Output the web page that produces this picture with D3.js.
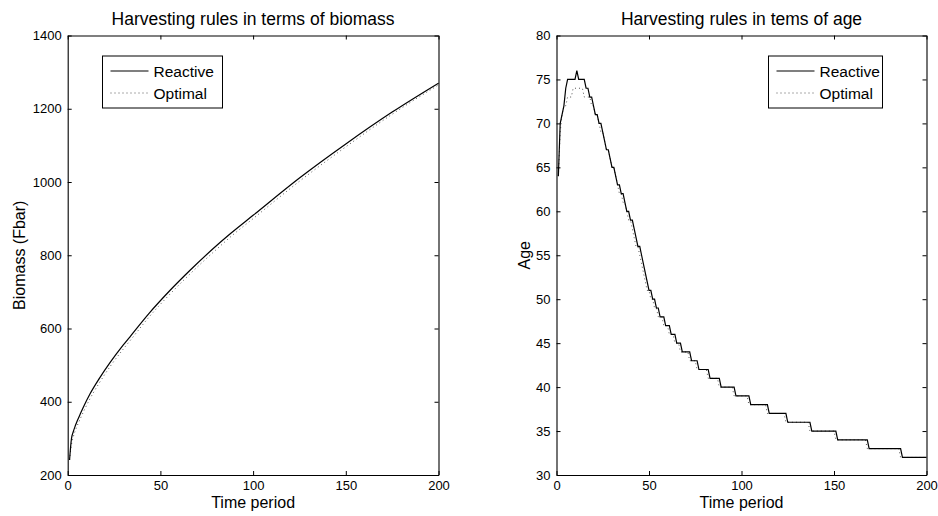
<!DOCTYPE html>
<html><head><meta charset="utf-8">
<script src="https://cdn.jsdelivr.net/npm/d3@7"></script>
<style>
body{margin:0;background:#fff;}
svg{display:block;font-family:"Liberation Sans",Arial,sans-serif;}
</style></head>
<body><svg id="c" width="938" height="516"></svg>
<script>
// ---- Left panel data (biomass) ----
const timeBiomass = [1,2,3,4,5,7,9,12,17,23,30,34,44,55,66,82,88,100,125,150,175,200];
const reactiveBiomass = [241,298,318,333,346,369,391,421,463,508,555,580,642,703,759,834,860,909,1011,1104,1191,1270];
const optimalBiomass  = [241,282,304,320,333,356,378,408,451,497,544,569,632,693,749,824,851,900,1002,1096,1185,1265];
const biomassTicks = [200,400,600,800,1000,1200,1400];
const timeTicks = [0,50,100,150,200];

// ---- Right panel data (age), run-length: level held from start time ----
const reactiveAgeLevels = [64,70,71,72,74,75,76,75,74,73,72,71,70,69,68,67,66,65,64,63,62,61,60,59,58,57,56,55,54,53,52,51,50,49,48,47,46,45,44,43,42,41,40,39,38,37,36,35,34,33,32];
const reactiveAgeStarts = [1,2,3,4,5,6,11,12,16,18,20,21,23,25,26,27,29,30,32,33,35,37,38,40,42,43,44,46,47,48,49,50,52,54,56,59,62,65,68,73,77,83,89,97,105,115,125,138,152,169,187];
const optimalAgeLevels = [64,69,71,72,73,74,73,72,71,70,69,68,67,66,65,64,63,62,61,60,59,58,57,56,55,54,53,52,51,50,49,48,47,46,45,44,43,42,41,40,39,38,37,36,35,34,33,32];
const optimalAgeStarts = [1,2,3,4,6,9,15,19,21,23,24,26,27,29,30,32,33,34,36,38,39,41,42,43,45,46,47,48,49,51,53,55,58,61,64,67,72,76,82,88,96,104,114,124,137,151,168,186];
const ageTicks = [30,35,40,45,50,55,60,65,70,75,80];
const lastTime = 200;

function expandRuns(levels, starts){
  const out=[];
  for(let t=1;t<=lastTime;t++){
    let idx=0;
    for(let i=0;i<starts.length;i++){ if(starts[i]<=t) idx=i; }
    out.push([t, levels[idx]]);
  }
  return out;
}

const svg = d3.select("#c");

function panel(opts){
  const {x0,x1,y0,y1,xDomain,yDomain,yTicks,title,ylabel,ylabelX,series,legend} = opts;
  const x = d3.scaleLinear().domain(xDomain).range([x0,x1]);
  const y = d3.scaleLinear().domain(yDomain).range([y1,y0]);
  const g = svg.append("g");

  series.forEach(s=>{
    const line = d3.line().x(d=>x(d[0])).y(d=>y(d[1]));
    if(s.curve) line.curve(s.curve);
    g.append("path").datum(s.data)
      .attr("fill","none").attr("stroke","#000")
      .attr("stroke-width", s.dotted?0.9:1.2)
      .attr("stroke-dasharray", s.dotted?"1,3":null)
      .attr("stroke-opacity", s.dotted?0.75:1)
      .attr("d", line);
  });

  const fs = "13px";
  const fmt = d3.format("d");
  const ax = [
    g.append("g").attr("transform",`translate(0,${y1})`).call(d3.axisBottom(x).tickValues(timeTicks).tickFormat(fmt).tickSizeInner(-4).tickSizeOuter(0).tickPadding(6)),
    g.append("g").attr("transform",`translate(0,${y0})`).call(d3.axisTop(x).tickValues(timeTicks).tickSizeInner(-4).tickSizeOuter(0).tickFormat("")),
    g.append("g").attr("transform",`translate(${x0},0)`).call(d3.axisLeft(y).tickValues(yTicks).tickFormat(fmt).tickSizeInner(-4).tickSizeOuter(0).tickPadding(6)),
    g.append("g").attr("transform",`translate(${x1},0)`).call(d3.axisRight(y).tickValues(yTicks).tickSizeInner(-4).tickSizeOuter(0).tickFormat(""))
  ];
  ax.forEach(a=>{
    a.selectAll("path.domain").attr("stroke","#000").attr("stroke-width",1.1);
    a.selectAll(".tick line").attr("stroke","#000");
    a.selectAll("text").attr("font-size",fs).attr("fill","#000").attr("font-family","Liberation Sans, Arial, sans-serif");
  });

  g.append("text").attr("x",(x0+x1)/2).attr("y",25).attr("text-anchor","middle")
    .attr("font-size","17.5px").text(title);
  g.append("text").attr("x",(x0+x1)/2).attr("y",508).attr("text-anchor","middle")
    .attr("font-size","16px").text("Time period");
  g.append("text").attr("transform",`translate(${ylabelX},${(y0+y1)/2}) rotate(-90)`)
    .attr("text-anchor","middle").attr("font-size","16px").text(ylabel);

  const L = legend;
  g.append("rect").attr("x",L.x).attr("y",L.y).attr("width",L.w).attr("height",L.h)
    .attr("fill","#fff").attr("stroke","#000").attr("stroke-width",1);
  series.forEach((s,i)=>{
    const ly = L.y + 15 + i*22;
    g.append("line").attr("x1",L.x+8).attr("x2",L.x+46).attr("y1",ly).attr("y2",ly)
      .attr("stroke","#000").attr("stroke-width", s.dotted?0.9:1.2)
      .attr("stroke-dasharray", s.dotted?"1,3":null)
      .attr("stroke-opacity", s.dotted?0.75:1);
    g.append("text").attr("x",L.x+51).attr("y",ly+5.5).attr("font-size","15.5px").text(s.name);
  });
}

panel({
  x0:67.7, x1:438.5, y0:35.5, y1:475,
  xDomain:[0,200], yDomain:[200,1400], yTicks:biomassTicks,
  title:"Harvesting rules in terms of biomass",
  ylabel:"Biomass (Fbar)", ylabelX:25,
  series:[
    {name:"Reactive", data: timeBiomass.map((t,i)=>[t,reactiveBiomass[i]]), curve:d3.curveMonotoneX},
    {name:"Optimal", data: timeBiomass.map((t,i)=>[t,optimalBiomass[i]]), curve:d3.curveMonotoneX, dotted:true}
  ],
  legend:{x:102.5,y:56,w:120,h:52}
});

panel({
  x0:556.5, x1:926.5, y0:35.5, y1:475,
  xDomain:[0,200], yDomain:[30,80], yTicks:ageTicks,
  title:"Harvesting rules in tems of age",
  ylabel:"Age", ylabelX:530,
  series:[
    {name:"Reactive", data: expandRuns(reactiveAgeLevels, reactiveAgeStarts)},
    {name:"Optimal", data: expandRuns(optimalAgeLevels, optimalAgeStarts), dotted:true}
  ],
  legend:{x:768.5,y:56,w:114,h:52}
});
</script></body></html>
